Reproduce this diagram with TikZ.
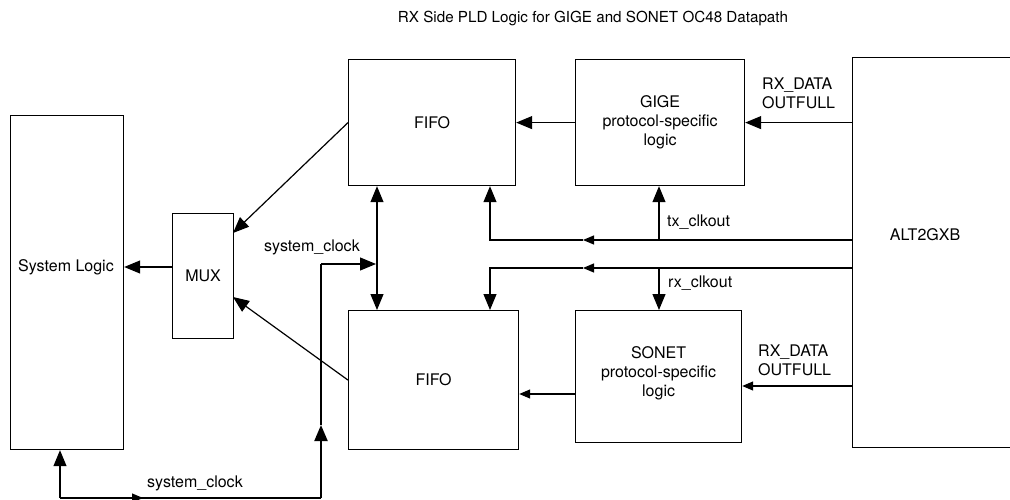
\documentclass[tikz,border=0pt]{standalone}
\usepackage{fontspec}
\setmainfont{TeX Gyre Heros}
\usetikzlibrary{arrows.meta}
\begin{document}
\begin{tikzpicture}[x=1pt,y=-1pt,
  box/.style={draw, line width=1.2pt, inner sep=0pt, anchor=north west, align=center, font=\fontsize{16}{19}\selectfont},
  lbl/.style={inner sep=0pt, font=\fontsize{16}{19}\selectfont, align=left},
  wire/.style={line width=1.2pt},
  big/.style={-{Triangle[length=16pt,width=13pt]}},
  bigboth/.style={{Triangle[length=16pt,width=13pt]}-{Triangle[length=16pt,width=13pt]}},
  small/.style={-{Triangle[length=11pt,width=9pt]}},
]
\useasboundingbox (0,0) rectangle (1010,500);
% boxes
\node[box, minimum width=113pt, minimum height=334pt] (sys) at (10,115) {};
\node[lbl, anchor=center] (syslbl) at (66,267) {System Logic};
\node[box, minimum width=61pt, minimum height=125pt] (mux) at (172,213) {MUX};
\node[box, minimum width=167pt, minimum height=126pt] (fifo1) at (348,59) {FIFO};
\node[box, minimum width=169pt, minimum height=126pt] (gige) at (575,59) {GIGE\\protocol-specific\\logic};
\node[box, minimum width=170pt, minimum height=139pt] (fifo2) at (348,310) {FIFO};
\node[box, minimum width=166pt, minimum height=132pt] (sonet) at (575,310) {SONET\\protocol-specific\\logic\\[-8pt]};
\node[box, minimum width=170pt, minimum height=390pt] (alt) at (852,57) {};
\node[lbl, anchor=center] (altlbl) at (925,235) {ALT2GXB};
% title and labels
\node[lbl, anchor=center, font=\fontsize{15.2}{18}\selectfont] (title) at (593,18) {RX Side PLD Logic for GIGE and SONET OC48 Datapath};
\node[lbl, anchor=west] (rxd1) at (762,93) {RX\_DATA\\OUTFULL};
\node[lbl, anchor=west] (rxd2) at (758,360) {RX\_DATA\\OUTFULL};
\node[lbl, anchor=west] (txl) at (667,222) {tx\_clkout};
\node[lbl, anchor=west] (rxl) at (668,283) {rx\_clkout};
\node[lbl, anchor=west] (scl1) at (264,247) {system\_clock};
\node[lbl, anchor=center] (scl2) at (195,483) {system\_clock};
% coordinates
\coordinate (txA) at (490,240);
\coordinate (txB) at (659,240);
\coordinate (txM) at (583,240);
\coordinate (rxA) at (490,268);
\coordinate (rxB) at (659,268);
\coordinate (rxM) at (583,268);
\coordinate (bdx) at (377,265);
\coordinate (sc) at (321,264);
\coordinate (scT) at (321,377);
\coordinate (scU) at (321,425);
\coordinate (scb) at (321,498);
\coordinate (sl) at (60,498);
\coordinate (slM) at (143,498);
\coordinate (m1) at (233,233);
\coordinate (m2) at (233,297);
\coordinate (so) at (575,394);
\coordinate (rd) at (800,386);
% top data path
\draw[wire,big] (gige.west) -- (fifo1.east);
\draw[wire,big] (alt.west |- gige.east) -- (gige.east);
% tx_clkout
\draw[wire,small] (alt.west |- txA) -- (txM);
\draw[wire,big] (txM) -- (txA) -- (txA |- fifo1.south);
\draw[wire,big] (txB) -- (txB |- gige.south);
% rx_clkout
\draw[wire,small] (alt.west |- rxA) -- (rxM);
\draw[wire,big] (rxM) -- (rxA) -- (rxA |- fifo2.north);
\draw[wire,big] (rxB) -- (rxB |- sonet.north);
% bottom data path
\draw[wire,small] (alt.west |- rd) -- (sonet.east |- rd);
\draw[wire,small] (sonet.west |- so) -- (fifo2.east |- so);
% fifo bidirectional
\draw[wire,bigboth] (fifo1.south -| bdx) -- (fifo2.north -| bdx);
% system clock
\draw[wire,big,shorten >=1pt] (sc) -- (sc -| bdx);
\draw[wire] (sc) -- (scT);
\draw[line width=2pt] (scT) -- (scU);
\draw[line width=2pt,big] (scb) -- (scU);
\draw[line width=1.5pt] (scb) -- (sl);
\draw[wire,big] (sl) -- (sl |- sys.south);
\draw[wire,small] (sl) -- (slM);
% to mux and system logic
\draw[wire,big] (fifo1.west) -- (m1);
\draw[wire,big] (fifo2.west) -- (m2);
\draw[wire,big] (mux.west |- syslbl) -- (sys.east |- syslbl);
\end{tikzpicture}
\end{document}
